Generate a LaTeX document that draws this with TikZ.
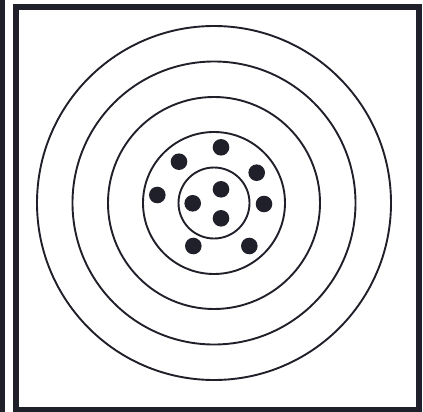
\documentclass[tikz,border=0pt]{standalone}
\definecolor{ink}{RGB}{32,32,42}
\tikzset{
  ring/.style={draw=ink,line width=1.9pt},
  shot/.style={fill=ink},
  frame/.style={draw=ink,line width=6pt},
}
\begin{document}
\begin{tikzpicture}[x=1pt,y=-1pt]
\useasboundingbox (0,0) rectangle (423,412);
\fill[ink] (0,0) rectangle (5,412);
\draw[frame] (16,7) rectangle (418.5,409.5);
\coordinate (c) at (214,203);
\foreach \r in {35.5,71,106,141.5,177}{
  \draw[ring] (c) circle[radius=\r];
}
\foreach \p in {(221,147.3),(179,161.7),(256.7,172.7),(157.3,195),(221,189.3),(192.7,203.3),(264,204),(221,218.3),(193.3,246),(249.3,246)}{
  \fill[shot] \p circle[radius=8.3];
}
\end{tikzpicture}
\end{document}
